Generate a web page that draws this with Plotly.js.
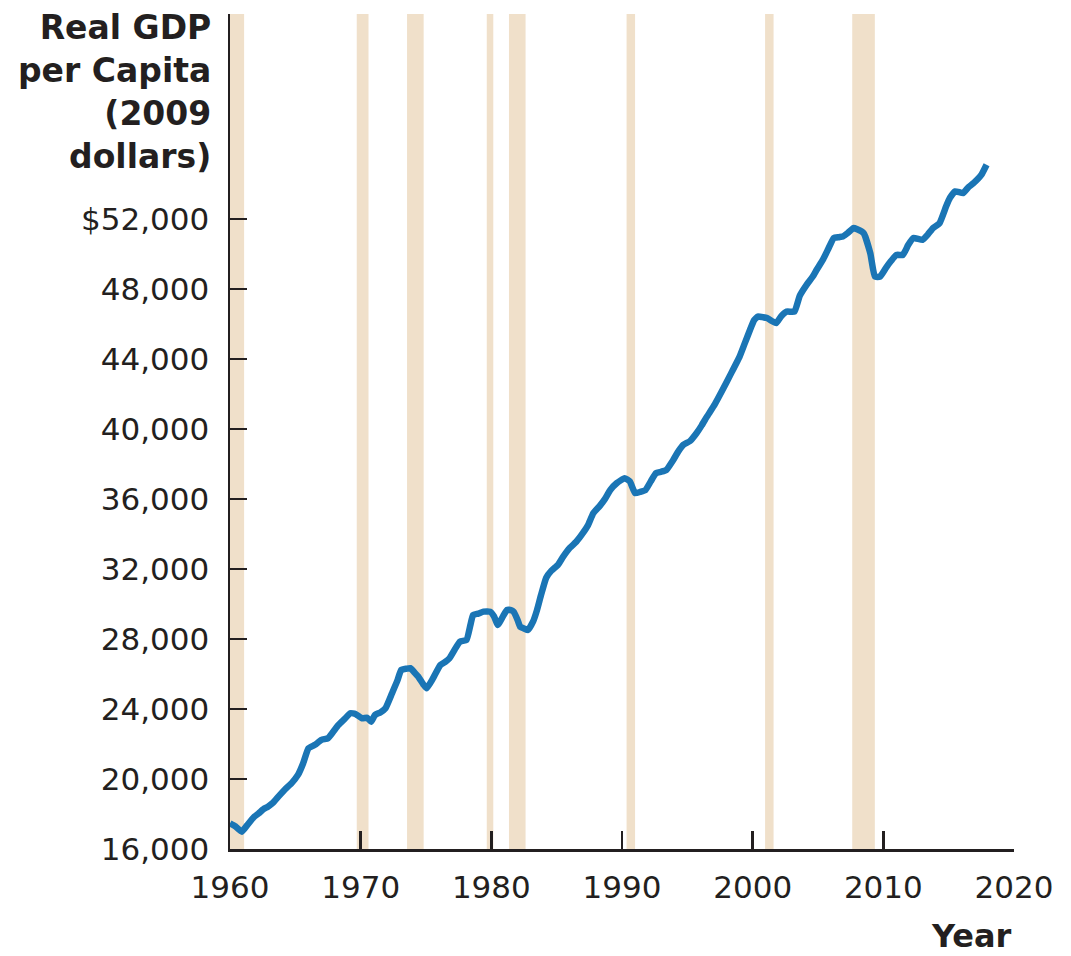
<!DOCTYPE html>
<html>
<head>
<meta charset="utf-8">
<script src="https://cdn.plot.ly/plotly-3.0.1.min.js"></script>
<style>html,body{margin:0;padding:0;background:#fff;}#chart{width:1071px;height:956px;}</style>
</head>
<body>
<div id="chart"></div>
<script>
// Quarterly-ish readings of real GDP per capita (2009 dollars)
const years = [
1960.0,1960.4,1960.9,1961.3,1961.8,1962.2,1962.6,1962.9,1963.3,1963.7,
1964.2,1964.7,1965.2,1965.6,1966.0,1966.5,1967.0,1967.5,1967.9,1968.3,
1968.8,1969.2,1969.6,1970.1,1970.5,1970.8,1971.1,1971.5,1971.9,1972.4,
1972.8,1973.1,1973.5,1973.8,1974.1,1974.4,1974.8,1975.05,1975.5,1976.1,
1976.5,1976.8,1977.2,1977.6,1978.1,1978.4,1978.6,1979.0,1979.4,1979.9,
1980.2,1980.5,1980.9,1981.2,1981.5,1981.7,1982.0,1982.2,1982.5,1982.8,
1983.2,1983.5,1983.8,1984.2,1984.6,1985.1,1985.5,1986.0,1986.5,1987.0,
1987.4,1987.8,1988.3,1988.7,1989.1,1989.6,1990.2,1990.6,1991.0,1991.4,
1991.8,1992.2,1992.6,1993.0,1993.4,1993.9,1994.3,1994.7,1995.2,1995.7,
1996.1,1996.5,1997.1,1997.7,1998.3,1999.0,1999.4,1999.8,2000.1,2000.4,
2000.8,2001.1,2001.5,2001.8,2002.2,2002.6,2003.2,2003.6,2004.1,2004.6,
2004.9,2005.4,2005.8,2006.2,2006.6,2006.9,2007.3,2007.7,2008.0,2008.5,
2009.0,2009.35,2009.75,2010.2,2010.6,2011.0,2011.5,2011.9,2012.3,2013.0,
2013.4,2013.8,2014.3,2014.8,2015.1,2015.5,2016.1,2016.5,2016.9,2017.5,
2017.9
];
const gdpPerCapita = [
17470,17300,16990,17350,17800,18040,18300,18420,18650,18990,
19400,19750,20230,20900,21750,21950,22230,22330,22700,23090,
23450,23750,23710,23470,23500,23270,23660,23800,24040,24900,
25600,26230,26300,26330,26100,25850,25400,25180,25700,26510,
26700,26900,27400,27850,27940,28800,29370,29450,29560,29560,
29300,28800,29300,29660,29650,29560,29100,28700,28600,28510,
29000,29660,30500,31500,31900,32230,32700,33200,33550,34040,
34500,35180,35600,36000,36510,36900,37180,37000,36330,36400,
36510,37000,37470,37550,37660,38200,38700,39090,39300,39750,
40200,40700,41400,42230,43100,44130,44900,45660,46200,46420,
46380,46330,46150,46040,46450,46700,46700,47600,48200,48700,
49090,49700,50300,50900,50950,50990,51200,51470,51400,51180,
50040,48700,48700,49200,49600,49940,49940,50500,50900,50800,
51100,51470,51750,52700,53200,53570,53470,53800,54040,54510,
55090
];
// Recession periods (shaded bands)
const recessionStart = [1959.95, 1969.7, 1973.55, 1979.65, 1981.35, 1990.35, 2000.95, 2007.62];
const recessionEnd   = [1961.08, 1970.6, 1974.82, 1980.15, 1982.62, 1991.0,  2001.6,  2009.35];
// Axis ticks
const xTickVals = [1960, 1970, 1980, 1990, 2000, 2010, 2020];
const xTickText = ["1960", "1970", "1980", "1990", "2000", "2010", "2020"];
const yTickVals = [16000, 20000, 24000, 28000, 32000, 36000, 40000, 44000, 48000, 52000];
const yTickText = ["16,000", "20,000", "24,000", "28,000", "32,000", "36,000", "40,000", "44,000", "48,000", "$52,000"];

const ink = '#231f20';
const shapes = recessionStart.map((s, i) => ({
  type: 'rect', xref: 'x', yref: 'paper', x0: s, x1: recessionEnd[i], y0: 0, y1: 1,
  fillcolor: '#f0e0ca', line: {width: 0}, layer: 'below'
}));

const trace = {
  x: years, y: gdpPerCapita, type: 'scatter', mode: 'lines',
  line: {color: '#1a75b5', width: 6.5, shape: 'spline', smoothing: 0.4},
  hoverinfo: 'skip'
};

const layout = {
  width: 1071, height: 956,
  margin: {l: 230, r: 57, t: 14, b: 107},
  paper_bgcolor: '#ffffff', plot_bgcolor: '#ffffff',
  showlegend: false,
  font: {family: 'DejaVu Sans', color: ink, size: 31},
  xaxis: {
    range: [1960, 2020], tickvals: xTickVals, ticktext: xTickText,
    showgrid: false, zeroline: false, showline: true, linecolor: ink, linewidth: 2.5,
    ticks: 'inside', ticklen: 18, tickwidth: 2.5, tickcolor: ink,
    tickfont: {family: 'DejaVu Sans', size: 31, color: ink},
    ticklabelstandoff: 9, fixedrange: true
  },
  yaxis: {
    range: [16000, 63700], tickvals: yTickVals, ticktext: yTickText,
    showgrid: false, zeroline: false, showline: true, linecolor: ink, linewidth: 2.5,
    ticks: 'inside', ticklen: 17, tickwidth: 2.5, tickcolor: ink,
    tickfont: {family: 'DejaVu Sans', size: 31, color: ink},
    ticklabelstandoff: 12, fixedrange: true
  },
  shapes: shapes,
  annotations: [
    {
      text: 'Real GDP<br>per Capita<br>(2009<br>dollars)',
      xref: 'paper', yref: 'paper', x: 0, y: 1, xanchor: 'right', yanchor: 'top',
      xshift: -17, yshift: 8, align: 'right', showarrow: false,
      font: {family: 'DejaVu Sans', size: 33, color: ink, weight: 'bold'}
    },
    {
      text: 'Year', xref: 'paper', yref: 'paper', x: 1, y: -0.104,
      xanchor: 'right', yanchor: 'middle', xshift: 0, showarrow: false,
      font: {family: 'DejaVu Sans', size: 32, color: ink, weight: 'bold'}
    }
  ]
};

Plotly.newPlot('chart', [trace], layout, {displayModeBar: false, staticPlot: true});
</script>
</body>
</html>
